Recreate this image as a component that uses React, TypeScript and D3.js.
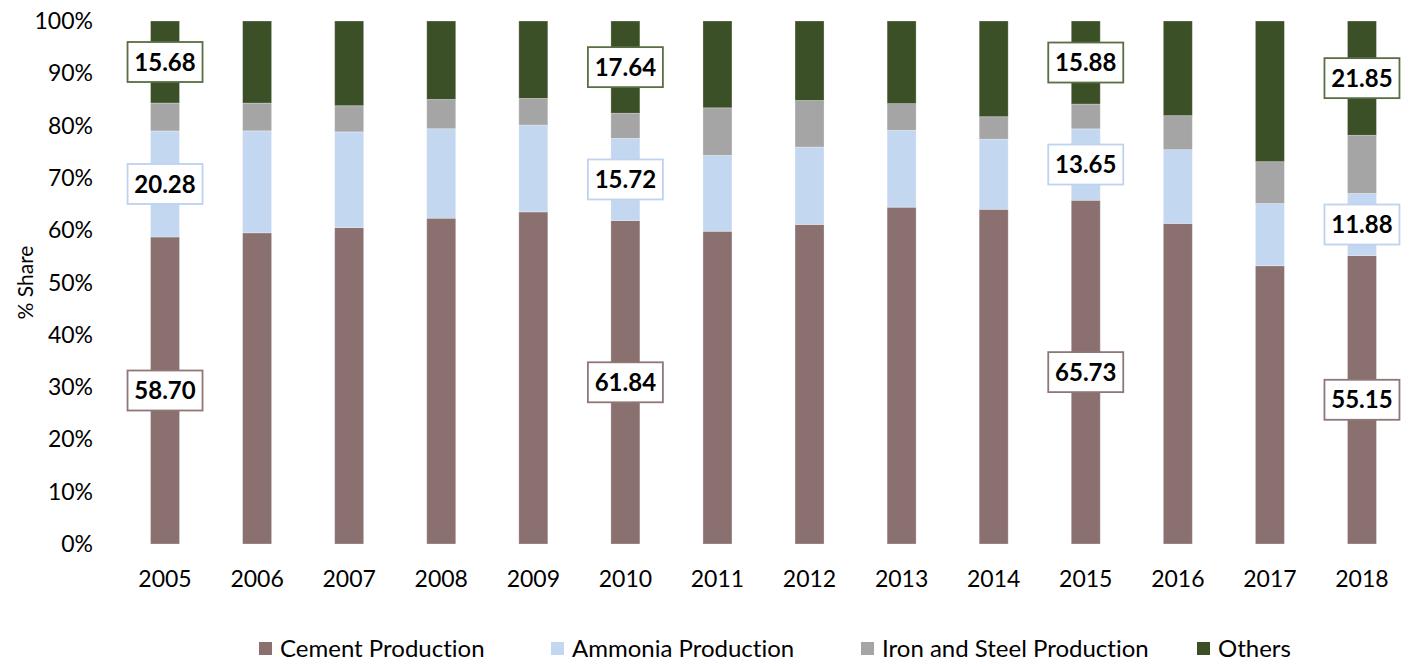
import React from "react";
import * as d3 from "d3";

const years = ["2005","2006","2007","2008","2009","2010","2011","2012","2013","2014","2015","2016","2017","2018"];
const cement = [58.70, 59.5, 60.5, 62.3, 63.5, 61.84, 59.8, 61.1, 64.4, 64.0, 65.73, 61.3, 53.2, 55.15];
const ammonia = [20.28, 19.5, 18.3, 17.1, 16.6, 15.72, 14.5, 14.8, 14.7, 13.4, 13.65, 14.1, 11.9, 11.88];
const ironSteel = [5.34, 5.3, 5.0, 5.6, 5.1, 4.80, 9.1, 8.9, 5.1, 4.3, 4.74, 6.5, 8.0, 11.12];
const others = [15.68, 15.7, 16.2, 15.0, 14.8, 17.64, 16.6, 15.2, 15.8, 18.3, 15.88, 18.1, 26.9, 21.85];
const yTicks = [0, 10, 20, 30, 40, 50, 60, 70, 80, 90, 100];
const labeledYears = ["2005", "2010", "2015", "2018"];

const seriesNames = ["Cement Production", "Ammonia Production", "Iron and Steel Production", "Others"];
const seriesColors = ["#8A7170", "#C4D7F0", "#A5A5A5", "#3C5028"];
const labelBorders = ["#8F7777", "#BDD3EF", "#A5A5A5", "#5A6E45"];
const labeledSeries = [0, 1, 3];

const W = 1413, H = 666;
const plot = { left: 119, right: 1408, top: 21, bottom: 544 };
const FONT = "Lato, 'Open Sans', sans-serif";

export default function App() {
  const rows = years.map((y, i) => ({
    year: y,
    s0: cement[i], s1: ammonia[i], s2: ironSteel[i], s3: others[i],
  }));
  const keys = ["s0", "s1", "s2", "s3"];
  const stack = d3.stack<any>().keys(keys)(rows);

  const x = d3.scaleBand<string>().domain(years).range([plot.left, plot.right]).paddingInner(0.685).paddingOuter(0.3425);
  const y = d3.scaleLinear().domain([0, 100]).range([plot.bottom, plot.top]);
  const bw = x.bandwidth();

  const legendX = [259, 551, 861, 1197];

  return (
    <svg width={W} height={H} style={{ position: "absolute", left: 0, top: 0, background: "#fff", fontVariantLigatures: "none" }} fontFamily={FONT}>
      {stack.map((layer, si) => (
        <g key={si}>
          {layer.map((d, i) => (
            <rect key={i} x={x(years[i])} y={y(d[1])} width={bw} height={y(d[0]) - y(d[1])}
              fill={seriesColors[si]} stroke="#ffffff" strokeOpacity={0.35} strokeWidth={0.8} />
          ))}
        </g>
      ))}
      {yTicks.map(t => (
        <text key={t} x={93} y={y(t)} dy="0.35em" textAnchor="end" fontSize={23} fill="#000">{t}%</text>
      ))}
      {years.map(yr => (
        <text key={yr} x={(x(yr) as number) + bw / 2} y={579} dy="0.35em" textAnchor="middle" fontSize={23} fill="#000">{yr}</text>
      ))}
      <text transform={`translate(26,${(plot.top + plot.bottom) / 2}) rotate(-90)`} textAnchor="middle" dy="0.35em" fontSize={21} fill="#000">% Share</text>
      {labeledSeries.map(si => (
        <g key={si}>
          {stack[si].map((d, i) => {
            if (!labeledYears.includes(years[i])) return null;
            const cx = (x(years[i]) as number) + bw / 2;
            const cy = (y(d[0]) + y(d[1])) / 2;
            const v = d[1] - d[0];
            return (
              <g key={i}>
                <rect x={cx - 37.5} y={cy - 20} width={75} height={40} fill="#fff" stroke={labelBorders[si]} strokeWidth={1.8} />
                <text x={cx} y={cy} dy="0.36em" textAnchor="middle" fontSize={24} fontWeight={700} fill="#000">{v.toFixed(2)}</text>
              </g>
            );
          })}
        </g>
      ))}
      {seriesNames.map((n, i) => (
        <g key={n}>
          <rect x={legendX[i]} y={642} width={13} height={13} fill={seriesColors[i]} />
          <text x={legendX[i] + 21} y={649} dy="0.35em" fontSize={24} fill="#000">{n}</text>
        </g>
      ))}
    </svg>
  );
}
